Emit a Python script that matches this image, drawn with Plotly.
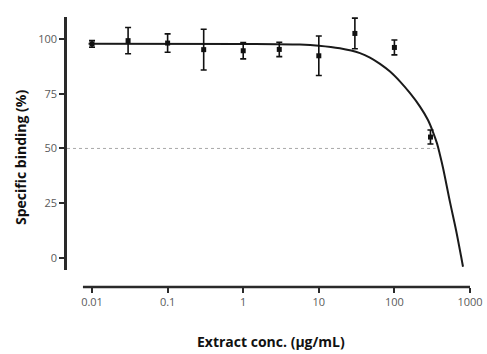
import plotly.graph_objects as go

# ---- data ----
conc = [0.01, 0.03, 0.1, 0.3, 1, 3, 10, 30, 100, 300]
binding = [97.7, 99.2, 98.1, 95.1, 94.6, 95.2, 92.3, 102.5, 96.1, 55.2]
binding_err = [1.5, 6.0, 4.2, 9.3, 3.7, 3.3, 9.0, 7.0, 3.4, 3.2]

fit_conc = [0.009, 1, 5.6, 10, 19, 35, 47.5, 64.5, 87.5, 119, 161, 218, 278, 324, 366, 401, 440, 544, 653, 760, 808]
fit_value = [97.8, 97.7, 97.4, 96.9, 95.7, 93.5, 91.5, 88.6, 85.1, 80.5, 75.2, 69.1, 63.0, 57.5, 52.3, 47.0, 41.1, 25.5, 12.8, 1.0, -4.0]

half_level = 50
half_conc = 350

x_tickvals = [0.01, 0.1, 1, 10, 100, 1000]
x_ticktext = ["0.01", "0.1", "1", "10", "100", "1000"]
y_tickvals = [0, 25, 50, 75, 100]

# ---- layout geometry ----
W, H = 487, 354


def px(p):
    return p / W


def py(p):
    return (H - p) / H


x_log_range = [-2.331, 3.0]
y_range = [-5.48, 110.0]
x_domain = [px(67), px(470)]
y_domain = [py(270), py(17)]
x_axis_pos = py(287)
x_line_start = 10 ** -2.12

axis_color = "#2a2a2a"
tick_font = dict(family="Open Sans, Liberation Sans, sans-serif", size=11, color="#5a5a5a")
title_font = dict(family="Open Sans, Liberation Sans, sans-serif", size=14, color="#111111")

fig = go.Figure()

# 50% reference line
fig.add_trace(go.Scatter(
    x=[10 ** x_log_range[0], half_conc], y=[half_level, half_level],
    mode="lines", line=dict(color="#a8a8a8", width=1, dash="dot"),
    hoverinfo="skip", showlegend=False))

# fitted curve
fig.add_trace(go.Scatter(
    x=fit_conc, y=fit_value, mode="lines",
    line=dict(color="#1a1a1a", width=2, shape="spline", smoothing=1.0),
    showlegend=False))

# data points with error bars
fig.add_trace(go.Scatter(
    x=conc, y=binding, mode="markers",
    marker=dict(symbol="square", size=5, color="#111111"),
    error_y=dict(type="data", array=binding_err, visible=True,
                 color="#111111", thickness=1.6, width=3),
    showlegend=False))

# x axis line (detached, Prism style)
fig.add_shape(type="line", xref="x", yref="paper",
              x0=x_line_start, x1=1000, y0=x_axis_pos, y1=x_axis_pos,
              line=dict(color=axis_color, width=2.5))

fig.update_layout(
    width=W, height=H,
    margin=dict(l=0, r=0, t=0, b=0, pad=0, autoexpand=False),
    paper_bgcolor="white", plot_bgcolor="white",
    xaxis=dict(type="log", range=x_log_range, domain=x_domain,
               anchor="free", position=x_axis_pos, automargin=False,
               showline=False, showgrid=False, zeroline=False,
               tickmode="array", tickvals=x_tickvals, ticktext=x_ticktext,
               ticks="outside", ticklen=5, tickwidth=2, tickcolor=axis_color,
               tickfont=tick_font),
    yaxis=dict(range=y_range, domain=y_domain, anchor="x", automargin=False,
               showline=True, linecolor=axis_color, linewidth=2.5,
               showgrid=False, zeroline=False,
               tickmode="array", tickvals=y_tickvals,
               ticks="outside", ticklen=5, tickwidth=2, tickcolor=axis_color,
               tickfont=tick_font),
    annotations=[
        dict(text="<b>Extract conc. (μg/mL)</b>", xref="paper", yref="paper",
             x=px(271), y=py(341), showarrow=False, font=title_font,
             xanchor="center", yanchor="middle"),
        dict(text="<b>Specific binding (%)</b>", xref="paper", yref="paper",
             x=px(20), y=py(158), showarrow=False, font=title_font,
             textangle=-90, xanchor="center", yanchor="middle"),
    ],
)

fig.write_html(
    "out.html",
    config={"responsive": False, "displayModeBar": False},
    post_script="document.body.style.margin='0';document.body.style.overflow='hidden';",
)
